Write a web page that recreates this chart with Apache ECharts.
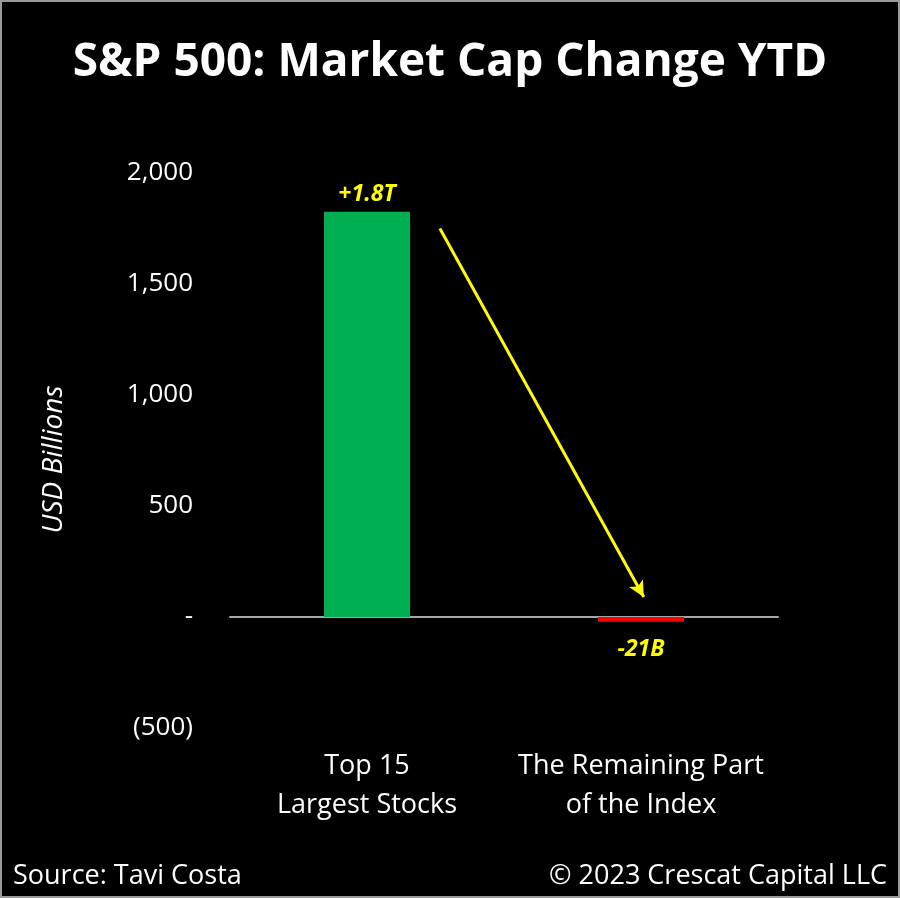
<!DOCTYPE html>
<html>
<head>
<meta charset="utf-8">
<script src="https://cdn.jsdelivr.net/npm/echarts@6/dist/echarts.min.js"></script>
<style>
  html, body { margin: 0; padding: 0; background: #000; }
  #chart { width: 900px; height: 898px; box-sizing: border-box; border: 2px solid #9a9a9a; }
</style>
</head>
<body>
<div id="chart"></div>
<script>
// categories and values (USD billions)
var categories = ['Top 15\nLargest Stocks', 'The Remaining Part\nof the Index'];
var capChange = [1825, -21];
var barLabels = ['+1.8T', '-21B'];
var barColors = ['#00b050', '#ff0000'];

// y axis ticks
var yTicks = [-500, 0, 500, 1000, 1500, 2000];
var yTickLabels = ['(500)', '-', '500', '1,000', '1,500', '2,000'];

// arrow from top bar toward the second one, in [x (0..2 across categories), y (USD bn)]
var arrowStart = [0.766, 1750];
var arrowEnd = [1.51, 90];

var FONT = 'Open Sans';

var myChart = echarts.init(document.getElementById('chart'));

var option = {
    backgroundColor: '#000',
    animation: false,
    title: [
        {
            text: 'S&P 500: Market Cap Change YTD',
            left: 'center',
            top: 33,
            textStyle: { color: '#fff', fontFamily: FONT, fontWeight: 'bold', fontSize: 46 }
        },
        {
            text: 'Source: Tavi Costa',
            left: 6,
            top: 856,
            textStyle: { color: '#fff', fontFamily: FONT, fontWeight: 'normal', fontSize: 27 }
        },
        {
            text: '\u00a9 2023 Crescat Capital LLC',
            right: 6,
            top: 856,
            textStyle: { color: '#fff', fontFamily: FONT, fontWeight: 'normal', fontSize: 27 }
        }
    ],
    grid: { left: 228, right: 120, top: 171, bottom: 168, outerBoundsMode: 'none' },
    xAxis: [
        {
            type: 'category',
            data: categories,
            axisLine: { onZero: true, lineStyle: { color: '#a6a6a6', width: 2 } },
            axisTick: { show: false },
            axisLabel: {
                interval: 0,
                margin: 19,
                color: '#fff',
                fontFamily: FONT,
                fontSize: 27,
                lineHeight: 39
            }
        },
        {
            type: 'value',
            min: 0,
            max: 2,
            show: false
        }
    ],
    yAxis: {
        type: 'value',
        min: -500,
        max: 2000,
        interval: 500,
        name: 'USD Billions',
        nameLocation: 'middle',
        nameGap: 162,
        nameTextStyle: { color: '#fff', fontFamily: FONT, fontStyle: 'italic', fontSize: 28, padding: [0, 18, 0, 0] },
        splitLine: { show: false },
        axisLine: { show: false },
        axisTick: { show: false },
        axisLabel: {
            margin: 37,
            color: '#fff',
            fontFamily: FONT,
            fontSize: 26,
            formatter: function (v) {
                var i = yTicks.indexOf(v);
                return i >= 0 ? yTickLabels[i] : '';
            }
        }
    },
    series: [
        {
            type: 'bar',
            barWidth: 86,
            data: capChange.map(function (v, i) {
                return {
                    value: v,
                    itemStyle: { color: barColors[i] },
                    label: {
                        show: true,
                        position: v >= 0 ? 'top' : 'bottom',
                        distance: v >= 0 ? 6 : 16,
                        formatter: barLabels[i],
                        color: '#ffff00',
                        fontFamily: FONT,
                        fontWeight: 'bold',
                        fontStyle: 'italic',
                        fontSize: 23
                    }
                };
            })
        },
        {
            type: 'line',
            xAxisIndex: 1,
            data: [],
            silent: true,
            markLine: {
                silent: true,
                symbol: ['none', 'arrow'],
                symbolSize: [12, 16],
                label: { show: false },
                lineStyle: { color: '#ffff00', width: 3, type: 'solid' },
                data: [[{ coord: arrowStart }, { coord: arrowEnd }]]
            }
        }
    ]
};

myChart.setOption(option);
</script>
</body>
</html>
